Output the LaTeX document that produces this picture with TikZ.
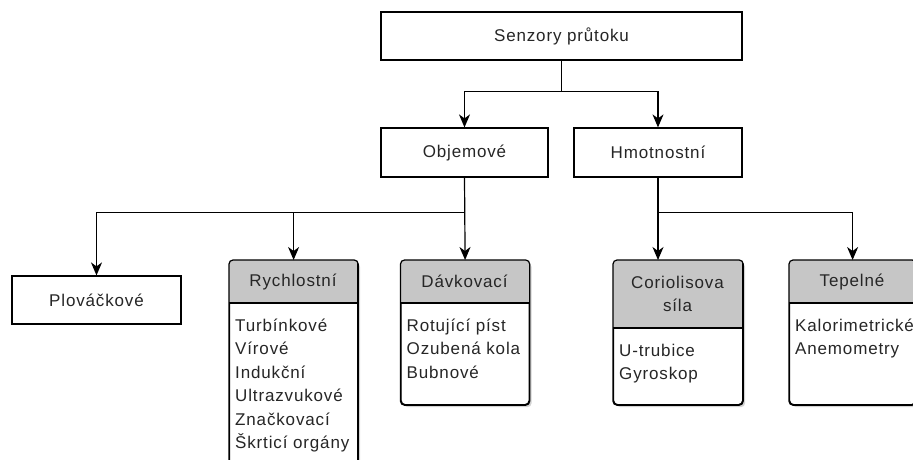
\documentclass[tikz,border=0pt]{standalone}
\usepackage{fontspec}
\setmainfont[LetterSpace=5]{Liberation Sans}
\usetikzlibrary{arrows.meta, calc, shadows}

\tikzset{
  box/.style={draw, line width=1.2pt, fill=white, inner sep=0pt},
  lanebox/.style={draw, line width=1.2pt, fill=white, rounded corners=4pt, inner sep=0pt,
    drop shadow={shadow xshift=2.5pt, shadow yshift=-2.5pt, opacity=0.35}},
  lanehead/.style={fill=gray!45},
  arr/.style={line width=1.2pt, -{Stealth[length=13pt, width=11pt, inset=4pt]}},
}

\begin{document}
\begin{tikzpicture}[x=1pt, y=-1pt, font=\fontsize{17}{23.5}\selectfont, text=black!85]
\useasboundingbox (0,0) rectangle (913,459);
\clip (0,0) rectangle (913,459);

% plain boxes of the tree
\node[box, minimum width=361pt, minimum height=48pt] (senzory) at (561.5,36) {Senzory průtoku};
\node[box, minimum width=167pt, minimum height=49pt] (objem) at (464.5,152.5) {Objemové};
\node[box, minimum width=168pt, minimum height=49pt] (hmot) at (658,152.5) {Hmotnostní};
\node[box, minimum width=169pt, minimum height=48pt] (plovak) at (96.5,300) {Plováčkové};

% lanes: name / left / right / header bottom / bottom / title / items
\foreach \n/\l/\r/\hb/\b/\t/\items in {
    rychl/229/357/303/472/{Rychlostní}/{Turbínkové\\Vírové\\Indukční\\Ultrazvukové\\Značkovací\\Škrticí orgány},
    davk/400.5/528.5/303/404/{Dávkovací}/{Rotující píst\\Ozubená kola\\Bubnové},
    corio/613/742/328/404/{Coriolisova\\síla}/{U-trubice\\Gyroskop},
    tepel/789/915/303/404/{Tepelné}/{Kalorimetrické\\Anemometry}} {
    \node[lanebox, anchor=north west, minimum width={(\r-\l)*1pt},
          minimum height={(\b-260)*1pt}] (\n) at (\l,260) {};
    % grey header, clipped to the rounded outline
    \begin{scope}
        \clip[rounded corners=4pt] (\n.north west) rectangle (\n.south east);
        \fill[lanehead] (\l,260) rectangle (\r,\hb);
    \end{scope}
    \draw[line width=1.2pt, rounded corners=4pt] (\n.north west) rectangle (\n.south east);
    \draw[line width=1.2pt] (\l,\hb) -- (\r,\hb);
    \node[align=center] (\n-title) at ({(\l+\r)/2},{(260+\hb)/2}) {\t};
    % first baseline 28pt under the header (strut is 16.45pt high)
    \node[anchor=north west, align=left, inner sep=0pt] (\n-list) at ({\l+6},{\hb+28-16.45}) {\strut\items};
}

% connectors
\draw[arr] (senzory.south) -- ++(0,31) -| (objem.north);
\draw[arr] (senzory.south) -- ++(0,31) -| (hmot.north);
\draw[arr] (objem.south) -- ++(0,35) -| (plovak.north);
\draw[arr] (objem.south) -- ++(0,35) -| (rychl.north);
\draw[arr] (objem.south) -- (davk.north);
\draw[arr] (hmot.south) -- (hmot.south |- corio.north);
\draw[arr] (hmot.south) -- ++(0,35) -| (tepel.north);
\end{tikzpicture}
\end{document}
